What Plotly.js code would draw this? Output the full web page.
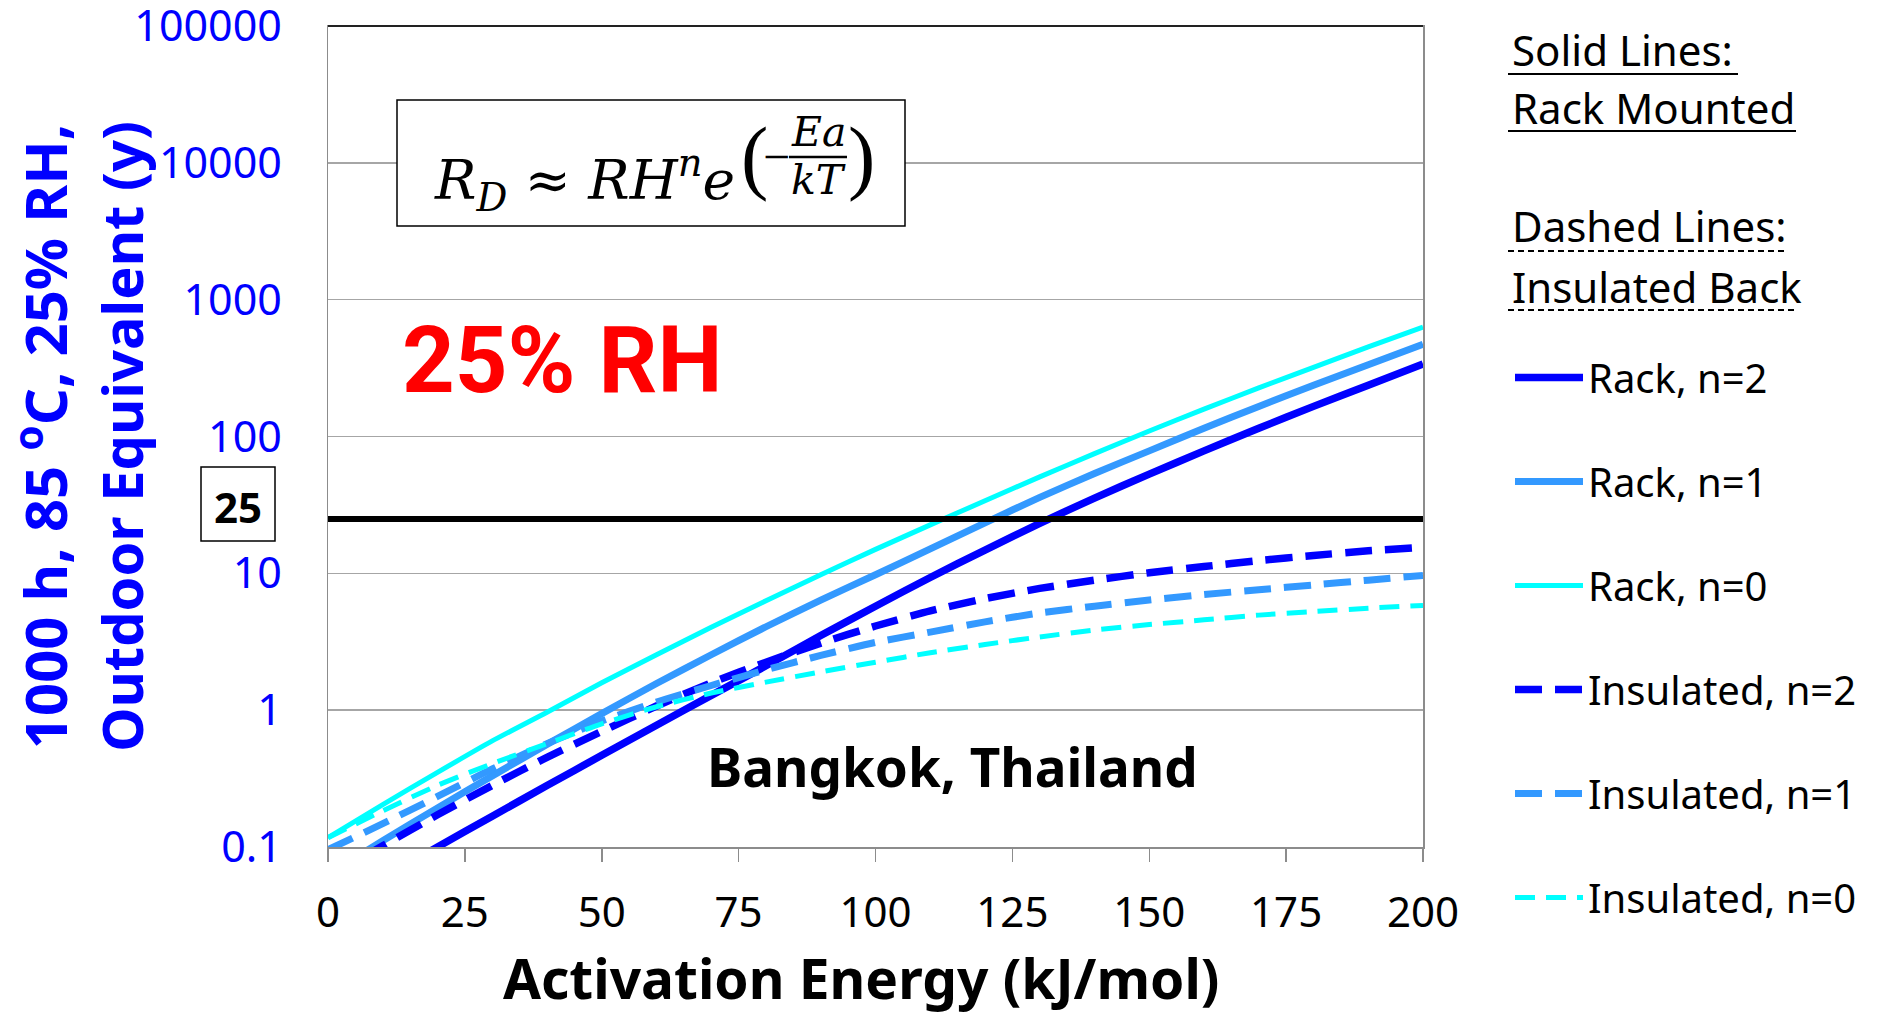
<!DOCTYPE html>
<html>
<head>
<meta charset="utf-8">
<script src="https://cdn.plot.ly/plotly-3.0.1.min.js"></script>
<style>
html, body { margin: 0; padding: 0; background: #ffffff; }
#chart { width: 1877px; height: 1015px; }
</style>
</head>
<body>
<div id="chart"></div>
<script>
// ---------- DATA ----------
const activationEnergy = [0, 10, 20, 30, 40, 50, 60, 70, 80, 90, 100, 110, 120, 130, 140, 150, 160, 170, 180, 190, 200];

// Outdoor equivalent years (solid = rack mounted, dashed = insulated back)
const rackN2 = [0.0339, 0.0589, 0.100, 0.168, 0.281, 0.468, 0.776, 1.282, 2.11, 3.51, 5.75, 9.33, 14.8, 23.2, 35.5, 53.1, 78.5, 114.8, 166, 237, 339];
const rackN1 = [0.063, 0.111, 0.193, 0.331, 0.562, 0.944, 1.567, 2.54, 4.07, 6.38, 9.77, 15.1, 23.4, 35.9, 53.7, 78.5, 114.8, 166, 237, 335, 473];
const rackN0 = [0.117, 0.204, 0.351, 0.596, 0.966, 1.585, 2.54, 4.03, 6.31, 9.77, 14.96, 22.6, 33.9, 50.7, 75.0, 109.6, 158.5, 226.5, 319.9, 451.9, 631];
const insulatedN2 = [0.0603, 0.102, 0.172, 0.282, 0.452, 0.700, 1.072, 1.585, 2.24, 3.09, 4.12, 5.31, 6.53, 7.76, 8.91, 10.1, 11.2, 12.4, 13.5, 14.6, 15.5];
const insulatedN1 = [0.0955, 0.148, 0.234, 0.372, 0.569, 0.832, 1.148, 1.514, 1.972, 2.51, 3.13, 3.72, 4.42, 5.13, 5.75, 6.38, 7.00, 7.59, 8.22, 8.91, 9.66];
const insulatedN0 = [0.117, 0.184, 0.282, 0.407, 0.569, 0.794, 1.059, 1.334, 1.603, 1.905, 2.24, 2.63, 3.02, 3.43, 3.85, 4.22, 4.57, 4.95, 5.25, 5.56, 5.83];

const seriesNames = ['Rack, n=2', 'Rack, n=1', 'Rack, n=0', 'Insulated, n=2', 'Insulated, n=1', 'Insulated, n=0'];

const thresholdX = [0, 200];
const thresholdY = [25, 25];

const xTickVals = [0, 25, 50, 75, 100, 125, 150, 175, 200];
const xTickText = ['0', '25', '50', '75', '100', '125', '150', '175', '200'];
const yTickVals = [0.1, 1, 10, 100, 1000, 10000, 100000];
const yTickText = ['0.1', '1', '10', '100', '1000', '10000', '100000'];

// ---------- LAYOUT HELPERS ----------
const L = 328, R = 1423, T = 26, B = 847;
const px = X => (X - L) / (R - L);
const py = Y => (B - Y) / (B - T);

const SANS = 'Noto Sans, Open Sans, sans-serif';
const SERIF = 'DejaVu Serif, serif';

const colors = ['#0000FF', '#3399FF', '#00FFFF', '#0000FF', '#3399FF', '#00FFFF'];
const widths = [7.5, 7, 5, 7.5, 7, 5];
const dashes = ['solid', 'solid', 'solid', '27px,13px', '27px,13px', '20px,11px'];
const ys = [rackN2, rackN1, rackN0, insulatedN2, insulatedN1, insulatedN0];

const traces = ys.map((y, i) => ({
  type: 'scatter',
  mode: 'lines',
  x: activationEnergy,
  y: y,
  name: seriesNames[i],
  legendgroup: 'g' + i,
  line: { color: colors[i], width: widths[i], dash: dashes[i], shape: 'spline', smoothing: 0.6 },
  hoverinfo: 'x+y+name'
}));

traces.push({
  type: 'scatter',
  mode: 'lines',
  x: thresholdX,
  y: thresholdY,
  name: '25 years',
  showlegend: false,
  line: { color: '#000000', width: 6 }
});

const layout = {
  width: 1877,
  height: 1015,
  paper_bgcolor: '#ffffff',
  plot_bgcolor: '#ffffff',
  margin: { l: L, r: 1877 - R, t: T, b: 1015 - B, pad: 0 },
  showlegend: true,
  legend: {
    x: px(1510), xanchor: 'left',
    y: py(345), yanchor: 'top',
    font: { family: SANS, size: 40, color: '#000000' },
    tracegroupgap: 49,
    itemwidth: 68,
    bgcolor: 'rgba(0,0,0,0)',
    traceorder: 'grouped'
  },
  xaxis: {
    range: [0, 200],
    tickvals: xTickVals,
    ticktext: xTickText,
    ticks: 'outside',
    ticklen: 13,
    tickwidth: 1.5,
    tickcolor: '#8c8c8c',
    showgrid: false,
    zeroline: false,
    showline: true,
    linecolor: '#8c8c8c',
    linewidth: 1.5,
    mirror: true,
    tickfont: { family: SANS, size: 42, color: '#000000' },
    ticklabelstandoff: 15,
    ticklabeloverflow: 'allow',
    title: {
      text: '<b>Activation Energy (kJ/mol)\u00A0\u00A0</b>',
      font: { family: SANS, size: 55, color: '#000000' },
      standoff: 22
    }
  },
  yaxis: {
    type: 'log',
    range: [-1.0001, 5.0001],
    tickvals: yTickVals,
    ticktext: yTickText,
    ticks: '',
    showgrid: true,
    gridcolor: '#a6a6a6',
    gridwidth: 1.5,
    zeroline: false,
    showline: true,
    linecolor: '#8c8c8c',
    linewidth: 1.5,
    mirror: true,
    tickfont: { family: SANS, size: 43, color: '#0000FF' },
    ticklabelstandoff: 36,
    ticklabeloverflow: 'allow',
    title: {
      text: '<b>1000 h, 85 <sup>o</sup>C, 25% RH,<br><span style="font-size:56px">Outdoor Equivalent (y)</span></b>',
      font: { family: SANS, size: 58, color: '#0000FF' },
      standoff: 16
    }
  },
  shapes: [
    // dark top border of the plot frame
    { type: 'line', xref: 'paper', yref: 'paper', x0: 0, x1: 1, y0: 1, y1: 1,
      line: { color: '#222222', width: 2 }, layer: 'above' },
    // equation box
    { type: 'rect', xref: 'paper', yref: 'paper', x0: px(397), x1: px(905), y0: py(226), y1: py(100),
      line: { color: '#000000', width: 1.5 }, fillcolor: '#ffffff', layer: 'above' },
    // fraction bar
    { type: 'line', xref: 'paper', yref: 'paper', x0: px(789), x1: px(847), y0: py(157), y1: py(157),
      line: { color: '#000000', width: 2.5 }, layer: 'above' },
    // "25" box
    { type: 'rect', xref: 'paper', yref: 'paper', x0: px(201), x1: px(275), y0: py(541), y1: py(467),
      line: { color: '#000000', width: 1.5 }, fillcolor: '#ffffff', layer: 'above' },
    // legend header underlines
    { type: 'line', xref: 'paper', yref: 'paper', x0: px(1508), x1: px(1738), y0: py(74), y1: py(74),
      line: { color: '#000000', width: 2 } },
    { type: 'line', xref: 'paper', yref: 'paper', x0: px(1508), x1: px(1796), y0: py(131), y1: py(131),
      line: { color: '#000000', width: 2 } },
    { type: 'line', xref: 'paper', yref: 'paper', x0: px(1508), x1: px(1787), y0: py(251), y1: py(251),
      line: { color: '#000000', width: 2, dash: '6px,4px' } },
    { type: 'line', xref: 'paper', yref: 'paper', x0: px(1508), x1: px(1796), y0: py(310), y1: py(310),
      line: { color: '#000000', width: 2, dash: '6px,4px' } }
  ],
  annotations: [
    // equation pieces
    { xref: 'paper', yref: 'paper', x: px(432), y: py(180), xanchor: 'left', yanchor: 'middle', showarrow: false,
      text: 'R<sub>D</sub> ≈ RH<sup>n</sup>e',
      font: { family: SERIF, size: 55, style: 'italic', color: '#000000' } },
    { xref: 'paper', yref: 'paper', x: px(754), y: py(157), xanchor: 'center', yanchor: 'middle', showarrow: false,
      text: '(', font: { family: 'Liberation Serif, serif', size: 82, color: '#000000' } },
    { xref: 'paper', yref: 'paper', x: px(776), y: py(157), xanchor: 'center', yanchor: 'middle', showarrow: false,
      text: '−', font: { family: 'Liberation Serif, serif', size: 48, color: '#000000' } },
    { xref: 'paper', yref: 'paper', x: px(818), y: py(132), xanchor: 'center', yanchor: 'middle', showarrow: false,
      text: 'Ea', font: { family: SERIF, size: 41, style: 'italic', color: '#000000' } },
    { xref: 'paper', yref: 'paper', x: px(818), y: py(180), xanchor: 'center', yanchor: 'middle', showarrow: false,
      text: 'kT', font: { family: SERIF, size: 41, style: 'italic', color: '#000000' } },
    { xref: 'paper', yref: 'paper', x: px(861), y: py(157), xanchor: 'center', yanchor: 'middle', showarrow: false,
      text: ')', font: { family: 'Liberation Serif, serif', size: 82, color: '#000000' } },
    // big red label
    { xref: 'paper', yref: 'paper', x: px(400), y: py(360), xanchor: 'left', yanchor: 'middle', showarrow: false,
      text: '<b>25% RH</b>', font: { family: 'Roboto, sans-serif', size: 92, color: '#FF0000' } },
    // location
    { xref: 'paper', yref: 'paper', x: px(952), y: py(766), xanchor: 'center', yanchor: 'middle', showarrow: false,
      text: '<b>Bangkok, Thailand</b>', font: { family: SANS, size: 53, color: '#000000' } },
    // "25" label box text
    { xref: 'paper', yref: 'paper', x: px(238), y: py(506), xanchor: 'center', yanchor: 'middle', showarrow: false,
      text: '<b>25</b>', font: { family: SANS, size: 42, color: '#000000' } },
    // legend headers
    { xref: 'paper', yref: 'paper', x: px(1510), y: py(49), xanchor: 'left', yanchor: 'middle', showarrow: false,
      text: 'Solid Lines:', font: { family: SANS, size: 42, color: '#000000' } },
    { xref: 'paper', yref: 'paper', x: px(1510), y: py(107), xanchor: 'left', yanchor: 'middle', showarrow: false,
      text: 'Rack Mounted', font: { family: SANS, size: 42, color: '#000000' } },
    { xref: 'paper', yref: 'paper', x: px(1510), y: py(226), xanchor: 'left', yanchor: 'middle', showarrow: false,
      text: 'Dashed Lines:', font: { family: SANS, size: 42, color: '#000000' } },
    { xref: 'paper', yref: 'paper', x: px(1510), y: py(286), xanchor: 'left', yanchor: 'middle', showarrow: false,
      text: 'Insulated Back', font: { family: SANS, size: 42, color: '#000000' } }
  ]
};

Plotly.newPlot('chart', traces, layout, { displayModeBar: false, staticPlot: true });
</script>
</body>
</html>
